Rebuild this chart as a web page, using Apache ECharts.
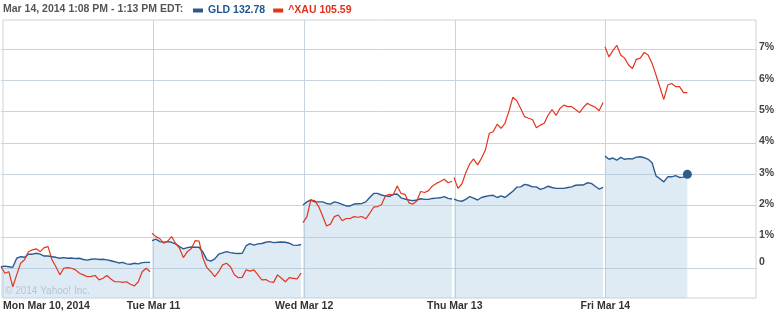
<!DOCTYPE html>
<html>
<head>
<meta charset="utf-8">
<script src="https://cdn.jsdelivr.net/npm/echarts@6/dist/echarts.min.js"></script>
<style>html,body{margin:0;padding:0;background:#fff}#c{width:779px;height:313px}</style>
</head>
<body>
<div id="c"></div>
<script>
// ---- data (percent change) ----
const dayLabels = ['Mon Mar 10, 2014', 'Tue Mar 11', 'Wed Mar 12', 'Thu Mar 13', 'Fri Mar 14'];
const yTickLabels = ['0', '1%', '2%', '3%', '4%', '5%', '6%', '7%'];
const headerText = 'Mar 14, 2014 1:08 PM - 1:13 PM EDT:';
const gldName = 'GLD', gldPrice = '132.78';
const xauName = '^XAU', xauPrice = '105.59';
const copyright = '\u00a9 2014 Yahoo! Inc.';

const gldMon = [0.05,0.07,0.05,0.03,0.32,0.37,0.35,0.45,0.45,0.48,0.45,0.39,0.39,0.37,0.35,0.32,0.34,0.32,0.33,0.31,0.32,0.28,0.26,0.29,0.30,0.28,0.29,0.27,0.24,0.21,0.17,0.19,0.14,0.13,0.16,0.14,0.18,0.19,0.19];
const gldTue = [0.88,0.93,0.85,0.83,0.85,0.83,0.78,0.69,0.62,0.66,0.68,0.67,0.67,0.51,0.27,0.23,0.30,0.45,0.49,0.53,0.50,0.48,0.47,0.48,0.72,0.79,0.74,0.78,0.79,0.83,0.85,0.82,0.83,0.84,0.83,0.80,0.74,0.73,0.76];
const gldWed = [2.02,2.12,2.18,2.12,2.12,2.12,2.07,2.05,2.12,2.09,2.04,1.99,1.99,2.05,2.06,2.07,2.12,2.26,2.39,2.39,2.34,2.31,2.29,2.36,2.37,2.25,2.21,2.18,2.16,2.18,2.22,2.20,2.20,2.23,2.24,2.25,2.29,2.23,2.21];
const gldThu = [2.21,2.16,2.14,2.20,2.29,2.24,2.18,2.26,2.29,2.32,2.33,2.26,2.31,2.26,2.36,2.46,2.59,2.60,2.68,2.65,2.60,2.60,2.52,2.56,2.62,2.58,2.55,2.55,2.55,2.58,2.60,2.65,2.66,2.66,2.73,2.71,2.62,2.53,2.58];
const gldFri = [3.58,3.48,3.52,3.45,3.54,3.48,3.50,3.49,3.55,3.56,3.53,3.48,3.37,2.95,2.86,2.76,2.92,2.92,2.96,2.90,2.91,3.00];

const xauMon = [0.05,-0.16,-0.11,-0.59,-0.21,0.16,0.27,0.53,0.59,0.62,0.53,0.66,0.69,0.27,0.05,-0.21,0.0,0.02,0.0,-0.05,-0.16,-0.21,-0.27,-0.26,-0.23,-0.37,-0.32,-0.23,-0.34,-0.43,-0.43,-0.45,-0.43,-0.51,-0.56,-0.43,-0.11,0.0,-0.11];
const xauTue = [1.12,1.01,0.94,0.80,0.87,1.01,0.80,0.64,0.34,0.53,0.62,0.88,0.87,0.32,0.02,-0.11,-0.27,-0.11,0.11,0.16,0.05,-0.21,-0.30,-0.29,-0.05,-0.09,-0.05,-0.21,-0.37,-0.36,-0.43,-0.45,-0.21,-0.32,-0.43,-0.30,-0.32,-0.34,-0.15];
const xauWed = [1.46,1.65,2.18,2.16,1.97,1.67,1.35,1.41,1.65,1.70,1.52,1.59,1.59,1.65,1.63,1.65,1.58,1.75,1.95,1.97,2.03,2.31,2.36,2.34,2.63,2.39,2.36,2.09,2.05,2.15,2.45,2.42,2.48,2.63,2.71,2.77,2.84,2.73,2.78];
const xauThu = [2.90,2.55,2.69,3.05,3.33,3.49,3.30,3.51,3.78,4.31,4.36,4.60,4.47,4.63,5.01,5.46,5.35,5.10,4.84,4.79,4.75,4.49,4.57,4.63,4.89,5.07,4.88,5.10,5.21,5.16,5.16,5.07,4.97,5.14,5.27,5.20,5.14,5.03,5.29];
const xauFri = [7.07,6.75,6.95,7.12,6.81,6.71,6.49,6.38,6.67,6.71,6.89,6.81,6.54,6.17,5.78,5.39,5.85,5.90,5.80,5.80,5.61,5.61];

// ---- build ----
const DAY = 390;            // trading minutes per day
const STEP = 385 / 38;      // minutes between samples
function build(days) {
  const out = [];
  days.forEach((arr, d) => {
    if (d > 0) out.push([d * DAY - 1, '-']);
    arr.forEach((v, i) => out.push([d * DAY + i * STEP, v]));
  });
  return out;
}
const gldData = build([gldMon, gldTue, gldWed, gldThu, gldFri]);
const xauData = build([xauMon, xauTue, xauWed, xauThu, xauFri]);
const lastIdx = gldData.length - 1;
gldData[lastIdx] = { value: gldData[lastIdx], symbol: 'circle', symbolSize: 9 };

const BLUE = '#2c5b91', RED = '#e2361f', GRIDC = '#c9d4de';
const FONT = 'Liberation Sans';
const prices = { [gldName]: gldPrice, [xauName]: xauPrice };

const chart = echarts.init(document.getElementById('c'), null, { renderer: 'canvas' });
chart.setOption({
  animation: false,
  backgroundColor: '#fff',
  title: [
    { text: headerText, left: 3, top: 4, padding: 0,
      textStyle: { color: '#555', fontWeight: 'bold', fontSize: 10.5, fontFamily: FONT } },
    { text: copyright, left: 5, top: 286, padding: 0, z: 10,
      textStyle: { color: '#b7c5d3', fontWeight: 'normal', fontSize: 10, fontFamily: FONT } }
  ],
  legend: {
    left: 193, top: 5, padding: 0, icon: 'rect', itemWidth: 10, itemHeight: 4, itemGap: 8,
    selectedMode: false,
    itemStyle: { borderWidth: 0 },
    formatter: n => n + ' ' + prices[n],
    data: [
      { name: gldName, textStyle: { color: '#1f5592', fontWeight: 'bold', fontSize: 10.5, fontFamily: FONT } },
      { name: xauName, textStyle: { color: '#e0301e', fontWeight: 'bold', fontSize: 10.5, fontFamily: FONT } }
    ]
  },
  grid: [
    { left: 1, right: 23, top: 17.7, bottom: 13.4, show: false },
    { left: 1, right: 23, top: 20, bottom: 15, show: true, borderColor: GRIDC, borderWidth: 1, backgroundColor: 'transparent' }
  ],
  xAxis: [
    { gridIndex: 0, type: 'value', min: 0, max: 5 * DAY, interval: DAY, show: false, splitLine: { show: false } },
    { gridIndex: 1, type: 'value', min: 0, max: 5 * DAY, interval: DAY,
      axisLine: { show: false }, axisTick: { show: false },
      splitLine: { show: true, lineStyle: { color: ['transparent', GRIDC, GRIDC, GRIDC, GRIDC, 'transparent'], width: 1 } },
      axisLabel: { margin: 3, color: '#333', fontWeight: 'bold', fontSize: 10.5, fontFamily: FONT,
        alignMinLabel: 'left', showMaxLabel: true,
        formatter: v => dayLabels[Math.round(v / DAY)] || '' } }
  ],
  yAxis: [
    { gridIndex: 0, type: 'value', min: -1, max: 8, interval: 1, position: 'right',
      axisLine: { show: false }, axisTick: { show: false },
      splitLine: { show: true, lineStyle: { width: 1, color: ['transparent', GRIDC, GRIDC, GRIDC, GRIDC, GRIDC, GRIDC, GRIDC, GRIDC, 'transparent'] } },
      axisLabel: { margin: 3, color: '#444', fontWeight: 'bold', fontSize: 10.5, fontFamily: FONT,
        formatter: v => {
          const k = Math.round(v);
          if (k < 0 || k >= yTickLabels.length) return '';
          return k === 0 ? '{z|' + yTickLabels[k] + '}' : '{n|' + yTickLabels[k] + '}';
        },
        rich: { z: { padding: [0, 0, 13, 0], fontWeight: 'bold', fontSize: 10.5, fontFamily: FONT, color: '#444' },
                n: { padding: [0, 0, 3, 0], fontWeight: 'bold', fontSize: 10.5, fontFamily: FONT, color: '#444' } } } },
    { gridIndex: 1, type: 'value', show: false, splitLine: { show: false } }
  ],
  series: [
    { name: gldName, type: 'line', xAxisIndex: 0, yAxisIndex: 0, data: gldData,
      showSymbol: true, symbol: 'none', connectNulls: false, z: 3,
      itemStyle: { color: BLUE },
      lineStyle: { color: BLUE, width: 1.4 },
      areaStyle: { color: 'rgba(165,198,224,0.5)', origin: -0.95 } },
    { name: xauName, type: 'line', xAxisIndex: 0, yAxisIndex: 0, data: xauData,
      showSymbol: false, symbol: 'none', connectNulls: false, z: 4,
      itemStyle: { color: RED },
      lineStyle: { color: RED, width: 1.2 } }
  ]
});
</script>
</body>
</html>
